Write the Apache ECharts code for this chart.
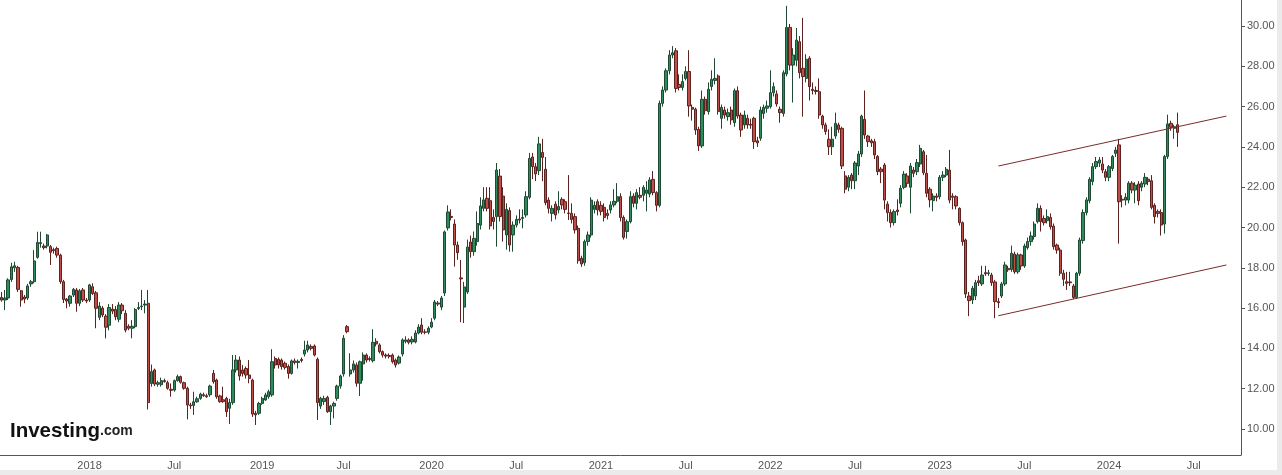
<!DOCTYPE html>
<html>
<head>
<meta charset="utf-8">
<script src="https://cdn.jsdelivr.net/npm/echarts@6/dist/echarts.min.js"></script>
<style>
html,body{margin:0;padding:0;background:#fff;}
#chart{width:1282px;height:475px;}
</style>
</head>
<body>
<div id="chart"></div>
<script>
// Weekly candles, first week starting 2017-06-26
const startDate = '2017-06-26';
const weekCount = 381; // axis extends past the last candle
const firstLabelledWeek = 20; // no tick label before the 2018 mark

const opens = [
16.53,16.4,16.5,17.42,18.0,18.02,16.86,16.55,16.5,17.2,
17.31,18.52,19.2,19.08,19.08,19.05,18.9,18.96,18.63,17.31,
16.45,16.24,16.65,16.9,16.24,16.9,16.4,16.4,17.06,16.76,
15.54,16.0,15.6,15.15,15.95,15.93,15.45,16.15,15.74,15.1,
15.0,15.08,15.98,16.07,16.15,16.24,12.26,12.93,12.22,12.2,
12.4,12.3,11.97,11.93,12.4,12.6,12.3,12.02,11.19,11.17,
11.35,11.52,11.7,11.65,11.7,12.76,12.43,11.64,11.45,11.52,
11.03,11.31,12.93,13.42,12.93,13.0,12.68,12.43,10.78,10.78,
11.27,11.44,11.6,11.69,13.5,13.46,13.42,13.26,13.1,12.76,
13.38,13.3,13.45,13.72,13.92,14.1,14.12,13.46,11.14,11.36,
11.57,10.86,11.14,11.52,12.13,12.73,15.08,12.73,12.93,13.18,
12.27,13.23,13.67,13.5,13.39,14.35,14.17,13.84,13.67,13.65,
13.67,13.42,13.27,13.72,14.35,14.42,14.32,14.32,14.76,15.16,
14.82,14.8,15.06,15.5,16.25,16.05,16.75,19.98,20.55,20.17,
19.13,17.5,16.05,16.8,19.28,18.8,19.3,20.12,20.95,21.45,
21.33,20.5,20.54,22.55,21.56,19.63,20.84,19.63,20.12,20.42,
20.45,20.62,21.5,23.5,23.02,22.82,23.72,22.89,21.36,20.7,
21.16,20.87,21.4,21.28,20.72,20.7,20.54,19.96,18.47,18.25,
19.3,19.63,20.9,21.28,21.1,21.0,20.7,20.87,21.12,21.3,
21.53,20.5,19.8,20.29,21.56,21.2,21.6,21.6,21.7,21.66,
22.39,21.73,21.1,26.16,26.82,27.78,28.56,28.77,27.1,26.95,
27.4,27.74,25.96,25.87,24.87,24.05,26.36,25.75,27.0,27.3,
27.52,25.42,25.83,25.5,25.83,25.2,26.79,25.58,25.09,25.42,
25.12,25.42,24.3,24.43,25.66,25.92,26.0,26.69,26.63,25.87,
25.66,27.62,29.93,28.06,28.3,29.22,27.9,27.4,28.4,26.86,
26.8,26.74,25.53,25.09,24.38,24.01,24.54,25.09,24.92,22.56,
22.0,22.6,22.32,23.05,23.65,25.37,24.54,24.3,24.26,23.52,
22.9,23.1,21.16,20.74,20.24,20.87,21.2,21.99,22.56,22.0,
22.85,22.77,23.15,23.76,22.69,21.9,21.33,21.56,21.53,22.49,
22.6,22.85,21.56,21.53,20.95,20.24,19.38,16.6,16.4,16.6,
17.36,17.2,17.76,17.72,17.64,17.3,16.32,16.6,17.2,17.97,
17.92,18.68,17.8,18.64,18.09,19.0,19.3,19.55,20.29,20.95,
20.45,20.34,20.5,20.07,19.13,18.88,17.73,17.31,17.3,17.1,
16.53,17.73,19.35,20.74,21.33,22.28,23.02,23.2,23.15,22.77,
22.49,22.93,23.68,24.1,21.4,21.36,21.36,22.2,21.86,22.16,
22.0,22.16,22.4,22.32,21.1,20.8,20.74,20.17,23.52,25.17,
24.92,25.1
];

const closes = [
16.4,16.5,17.4,18.05,18.1,16.93,16.4,16.45,17.1,17.31,
18.34,19.26,19.25,19.0,19.63,18.77,18.85,18.63,17.31,16.43,
16.35,16.6,16.93,16.24,16.86,16.4,16.35,17.15,16.73,15.99,
16.1,15.66,15.05,16.03,15.85,15.57,16.15,15.87,14.91,15.0,
15.1,15.93,16.03,16.1,16.2,11.31,12.85,12.23,12.3,12.4,
12.35,12.02,11.92,12.4,12.6,12.32,12.02,11.19,11.15,11.35,
11.5,11.73,11.65,11.6,12.13,12.35,11.6,11.36,11.36,10.86,
11.31,12.93,13.42,12.63,12.76,12.68,12.51,10.74,10.7,11.27,
11.52,11.69,11.85,13.34,13.18,13.18,13.1,13.06,12.76,13.38,
13.3,13.36,13.4,13.92,14.17,14.0,13.67,11.31,11.52,11.52,
10.86,11.14,11.27,12.13,12.63,14.5,14.83,12.93,13.23,12.27,
13.34,13.67,13.42,13.45,14.3,14.22,13.84,13.67,13.62,13.6,
13.34,13.18,13.57,14.42,14.42,14.3,14.45,14.76,15.06,14.8,
14.8,15.0,15.3,16.3,16.2,16.5,19.78,20.77,20.5,19.13,
18.75,17.45,17.05,19.03,18.8,19.46,20.2,21.07,21.37,20.95,
20.08,20.3,22.85,20.54,19.88,20.9,19.13,20.12,20.4,20.37,
20.5,21.53,23.43,23.02,22.66,24.15,23.48,21.23,20.95,20.95,
20.62,21.04,21.12,20.9,20.7,20.4,19.88,18.35,18.19,19.3,
19.63,21.36,21.1,20.87,20.8,20.5,20.6,21.12,21.3,21.53,
20.5,19.51,20.29,21.53,21.2,21.73,21.5,21.99,21.86,22.36,
21.73,21.1,26.16,26.82,27.78,28.56,28.67,26.9,26.95,27.24,
27.74,26.03,25.87,24.84,24.05,26.36,25.8,26.86,27.35,27.4,
25.75,25.96,25.58,25.7,25.34,26.79,25.53,24.84,25.58,25.09,
25.08,24.26,24.2,25.83,25.96,26.03,26.69,26.99,26.13,25.7,
27.68,29.93,28.06,28.56,29.3,27.68,27.49,28.35,26.99,26.8,
26.75,25.58,25.09,24.76,24.01,24.38,25.17,24.87,23.05,21.9,
22.49,22.32,23.2,23.65,25.53,24.59,24.26,24.2,23.6,22.77,
22.77,21.36,20.74,20.24,20.79,20.79,21.95,22.65,22.19,23.05,
22.69,23.22,23.93,22.72,21.7,21.37,21.56,21.5,22.49,22.6,
22.89,21.36,21.5,21.07,20.24,19.3,16.7,16.37,16.98,17.26,
17.26,17.64,17.7,17.75,17.26,16.32,16.27,17.2,18.14,17.9,
18.72,17.8,18.64,18.09,19.08,19.3,19.58,20.17,20.95,20.29,
20.24,20.54,20.04,19.05,18.88,17.73,17.43,17.23,17.26,16.53,
17.73,19.38,20.74,21.37,22.39,23.02,23.27,23.35,22.85,22.49,
23.02,23.52,23.84,21.28,21.36,21.5,22.2,21.86,22.1,21.33,
22.2,22.49,22.28,21.0,20.54,20.7,20.12,23.52,25.14,24.97,
25.0,24.72
];

const highs = [
16.8,16.9,17.48,18.25,18.3,18.1,16.9,16.65,17.2,17.4,
18.88,19.79,19.79,19.2,19.68,19.13,19.0,19.05,18.7,17.4,
16.5,16.65,17.0,17.0,16.95,17.0,16.5,17.2,17.23,16.85,
16.3,16.1,15.7,16.2,16.2,16.1,16.3,16.25,15.9,15.2,
15.4,16.0,16.3,16.9,16.4,16.9,13.2,13.0,12.4,12.55,
12.5,12.4,12.26,12.45,12.7,12.65,12.35,12.1,11.3,11.85,
11.6,11.8,11.8,11.75,12.2,12.93,12.5,11.7,12.1,11.6,
11.5,13.67,13.67,13.6,13.18,13.1,13.42,12.5,10.9,11.35,
11.6,11.8,11.95,13.96,13.6,13.55,13.5,13.35,13.2,13.45,
13.5,13.45,13.55,14.38,14.38,14.2,14.2,13.55,11.6,11.65,
11.65,11.2,11.35,12.2,12.7,14.66,15.16,13.76,13.4,13.3,
13.4,13.8,13.75,13.6,14.95,14.5,14.25,13.9,13.75,13.75,
13.75,13.5,13.65,14.5,14.6,14.5,14.6,14.9,15.2,15.5,
14.95,15.1,15.5,16.4,16.35,16.6,19.85,21.1,20.9,20.4,
19.3,18.39,17.3,19.4,19.6,19.8,20.8,21.5,22.0,22.0,
22.0,20.9,23.2,22.9,22.0,21.2,21.0,20.3,20.6,20.9,
20.9,21.8,23.7,23.7,23.2,24.5,24.4,23.5,21.5,21.1,
21.3,21.8,21.5,21.4,22.6,21.2,20.7,20.1,18.6,19.4,
19.8,21.5,21.3,21.4,21.3,21.2,20.9,21.3,21.9,22.2,
21.7,20.6,20.4,21.8,21.7,21.9,22.0,22.1,22.3,22.5,
22.8,21.8,26.3,27.0,27.9,28.8,29.0,28.9,27.6,27.6,
28.0,28.8,26.1,25.95,25.0,26.8,26.5,27.2,27.8,28.4,
27.6,26.1,26.0,25.9,26.0,26.9,27.0,25.7,25.8,25.6,
25.4,25.5,24.5,26.0,26.1,26.3,27.8,27.2,26.8,26.0,
27.8,31.0,30.1,28.9,29.9,29.5,30.4,28.6,28.5,27.2,
27.0,27.4,25.6,25.2,24.87,25.0,25.7,25.2,25.0,22.8,
22.6,22.7,23.3,23.8,25.6,26.8,24.6,24.4,24.4,23.6,
23.0,23.2,21.3,20.9,20.9,21.4,22.1,22.8,22.7,23.2,
23.0,23.4,24.1,23.85,23.6,22.0,21.7,21.7,22.6,22.8,
23.0,23.85,21.7,21.6,21.0,20.3,19.45,16.8,17.1,17.4,
17.6,18.1,18.1,17.9,17.75,17.4,16.5,17.3,18.3,18.1,
19.1,18.8,18.75,18.7,19.2,19.5,19.8,20.3,21.2,21.1,
20.6,20.9,20.7,20.2,19.2,19.0,17.9,17.8,17.8,17.2,
17.8,19.5,20.9,21.5,22.5,23.2,23.5,23.5,23.5,22.9,
23.1,23.6,24.0,24.4,21.6,21.7,22.3,22.3,22.25,22.3,
22.3,22.7,22.5,22.6,21.2,20.9,20.9,23.6,25.6,25.3,
25.1,25.7
];

const lows = [
16.32,15.9,16.4,17.3,17.8,16.8,16.07,16.24,16.4,17.06,
17.23,18.45,19.0,18.9,18.96,18.14,18.7,18.5,17.2,16.25,
15.99,16.07,16.55,15.82,16.1,16.3,16.25,16.3,16.65,15.0,
15.4,15.55,14.5,14.9,15.7,15.4,15.3,15.7,14.8,14.9,
14.5,15.0,15.9,15.9,15.74,10.97,12.1,12.13,12.1,12.1,
12.3,11.95,11.6,11.85,12.35,12.25,11.95,10.48,11.0,10.7,
11.3,11.45,11.6,11.55,11.6,12.25,11.5,11.3,11.3,10.6,
10.25,11.2,12.8,12.4,12.6,12.5,12.27,10.6,10.2,10.7,
11.2,11.4,11.5,11.6,13.0,13.0,12.95,12.95,12.5,12.7,
13.2,13.0,13.3,13.6,13.8,13.9,13.6,10.45,11.0,11.2,
10.8,10.2,10.53,11.4,12.0,12.6,14.75,12.6,12.8,12.1,
11.64,12.4,13.3,13.35,13.3,14.1,13.75,13.55,13.5,13.5,
13.25,13.05,13.2,13.6,14.25,14.2,14.2,14.25,14.7,14.7,
14.7,14.7,15.0,15.4,16.1,15.9,16.6,19.85,20.35,18.06,
18.4,15.3,15.26,16.7,18.5,18.6,19.1,19.9,20.8,20.8,
19.9,19.9,19.05,20.3,19.3,18.9,18.8,18.8,20.0,20.2,
19.96,20.5,21.4,22.4,22.3,22.6,22.3,21.1,20.7,20.3,
20.4,20.7,20.9,20.7,20.37,20.2,19.7,18.2,18.05,18.1,
19.1,19.5,20.7,20.6,20.6,20.3,20.4,20.7,21.0,21.2,
20.3,19.4,19.45,20.2,21.0,20.9,21.4,21.3,20.8,21.5,
21.6,20.8,21.0,26.0,26.7,27.6,28.4,26.7,26.8,26.8,
27.3,25.5,25.3,24.6,23.8,23.95,25.6,25.6,26.8,27.1,
25.6,24.9,25.4,25.3,25.1,25.0,25.4,24.5,24.9,24.9,
24.9,23.9,24.0,24.3,25.4,25.7,25.9,26.5,26.0,25.2,
25.5,27.5,27.8,26.2,28.0,27.4,25.5,27.2,26.3,26.6,
26.6,25.4,24.9,24.6,23.6,23.6,24.4,24.7,22.9,21.7,
21.8,21.9,21.9,22.6,23.5,24.4,24.0,24.0,23.4,22.6,
22.2,20.9,20.3,20.0,20.1,20.6,21.0,21.9,22.0,20.7,
22.5,22.6,23.0,22.6,21.5,21.0,20.8,21.3,21.4,22.3,
22.5,21.2,20.9,20.9,20.1,19.1,16.5,15.6,16.2,16.4,
17.1,17.1,17.6,17.6,17.1,15.5,16.0,16.5,17.1,17.8,
17.8,17.7,17.7,17.9,18.0,18.9,19.1,19.4,20.2,19.8,
20.1,20.2,19.9,18.9,18.7,17.6,17.1,16.9,17.1,16.45,
16.45,17.6,19.2,20.6,21.2,22.1,22.9,23.0,22.7,22.3,
22.3,22.8,23.5,19.2,21.0,21.1,21.2,21.7,21.2,21.1,
21.8,22.0,22.1,20.9,20.2,20.5,19.6,19.7,23.4,24.8,
24.4,24.0
];

// Channel lines: [startWeekIndex, startValue, endWeekIndex, endValue]
const upperChannel = [306, 23.05, 376, 25.53];
const lowerChannel = [306, 15.62, 376, 18.14];

const lastPrice = 24.72;
const yTicks = [10, 12, 14, 16, 18, 20, 22, 24, 26, 28, 30];
const yMin = 8.71, yMax = 31.29;

// build weekly categories
const categories = [];
(function () {
  const d0 = new Date(startDate + 'T00:00:00Z');
  for (let i = 0; i < weekCount; i++) {
    const d = new Date(d0.getTime() + i * 7 * 86400000);
    categories.push(d.toISOString().slice(0, 10));
  }
})();

const candles = opens.map((o, i) => [o, closes[i], lows[i], highs[i]]);

function isMarkWeek(index, value) {
  if (index < firstLabelledWeek) return false;
  const m = +value.slice(5, 7), day = +value.slice(8, 10);
  return (m === 1 || m === 7) && day <= 7;
}
function markLabel(value) {
  const m = +value.slice(5, 7);
  return m === 1 ? value.slice(0, 4) : 'Jul';
}

const chart = echarts.init(document.getElementById('chart'), null, { renderer: 'canvas' });
const FONT = '"Liberation Sans", Arial, sans-serif';
const trendStyle = { color: '#7a2c2c', width: 1, type: 'solid' };

chart.setOption({
  animation: false,
  backgroundColor: '#ffffff',
  textStyle: { fontFamily: FONT },
  title: {
    text: '{a|Investing}{b|.com}',
    left: 5, top: 416,
    textStyle: {
      rich: {
        a: { fontFamily: FONT, fontSize: 20.5, fontWeight: 'bold', color: '#111' },
        b: { fontFamily: FONT, fontSize: 14, color: '#222' }
      }
    }
  },
  grid: { left: 0, right: 41, top: 0, bottom: 20, containLabel: false },
  xAxis: {
    type: 'category',
    data: categories,
    boundaryGap: true,
    axisLine: { lineStyle: { color: '#555', width: 1 } },
    axisTick: { alignWithLabel: true, interval: isMarkWeek, length: 4, lineStyle: { color: '#555' } },
    axisLabel: { interval: isMarkWeek, formatter: markLabel, color: '#555', fontSize: 11, margin: 5, fontFamily: FONT },
    splitLine: { show: false }
  },
  yAxis: {
    type: 'value',
    position: 'right',
    min: yMin, max: yMax,
    axisLine: { show: true, lineStyle: { color: '#555', width: 1 } },
    axisTick: { show: true, customValues: yTicks, length: 4, lineStyle: { color: '#555' } },
    axisLabel: { customValues: yTicks, formatter: v => v.toFixed(2), color: '#555', fontSize: 11, margin: 6, fontFamily: FONT },
    splitLine: { show: false }
  },
  series: [{
    type: 'candlestick',
    data: candles,
    barWidth: 2.8,
    itemStyle: {
      color: '#2f8a5c',
      color0: '#bf4d48',
      borderColor: '#1e4a33',
      borderColor0: '#5c2220',
      borderWidth: 1
    },
    markLine: {
      silent: true,
      symbol: 'none',
      animation: false,
      data: [
        [
          { coord: [categories[upperChannel[0]], upperChannel[1]], lineStyle: trendStyle, label: { show: false } },
          { coord: [categories[upperChannel[2]], upperChannel[3]] }
        ],
        [
          { coord: [categories[lowerChannel[0]], lowerChannel[1]], lineStyle: trendStyle, label: { show: false } },
          { coord: [categories[lowerChannel[2]], lowerChannel[3]] }
        ],
        {
          yAxis: lastPrice,
          lineStyle: { opacity: 0, width: 0 },
          label: {
            show: true, position: 'end', distance: 0,
            formatter: lastPrice.toFixed(2),
            backgroundColor: '#4472d8', color: '#ffffff',
            fontWeight: 'bold', fontSize: 12, fontFamily: FONT,
            padding: [2, 4, 2, 4], borderRadius: 0
          }
        }
      ]
    }
  }],
  graphic: [
    { type: 'rect', silent: true, z: -1, shape: { x: 0, y: 470, width: 1282, height: 5 }, style: { fill: '#ebebeb' } },
    { type: 'rect', silent: true, z: -1, shape: { x: 1277, y: 0, width: 5, height: 475 }, style: { fill: '#ebebeb' } }
  ]
});
</script>
</body>
</html>
